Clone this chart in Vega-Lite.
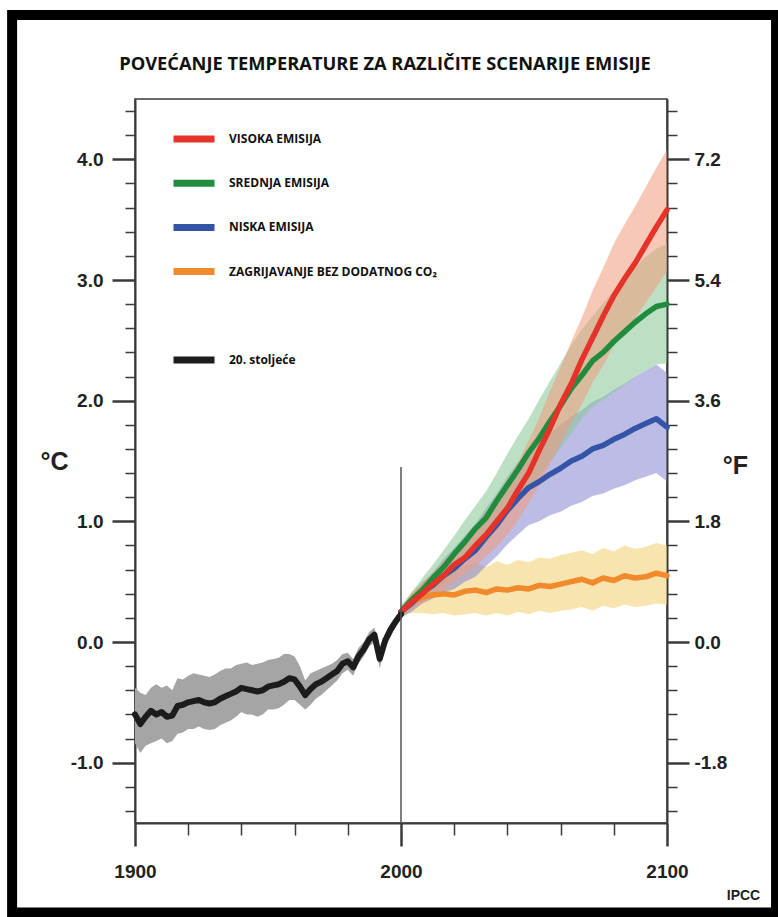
{
  "$schema": "https://vega.github.io/schema/vega-lite/v6.json",
  "width": 532,
  "height": 724,
  "autosize": {"type": "none"},
  "padding": {"left": 135, "top": 99, "right": 111, "bottom": 94},
  "background": "white",
  "title": {
    "text": "POVEĆANJE TEMPERATURE ZA RAZLIČITE SCENARIJE EMISIJE",
    "font": "Liberation Sans Narrow, Open Sans",
    "fontSize": 18.3,
    "fontWeight": "bold",
    "color": "#111111",
    "anchor": "middle",
    "frame": "group",
    "dx": -16,
    "offset": -78,
    "baseline": "alphabetic"
  },
  "datasets": {
    "hist": [
      {"year": 1900, "t": -0.60, "lo": -0.84, "hi": -0.38, "s": "20. stoljeće"},
      {"year": 1902, "t": -0.68, "lo": -0.92, "hi": -0.42, "s": "20. stoljeće"},
      {"year": 1904, "t": -0.62, "lo": -0.86, "hi": -0.44, "s": "20. stoljeće"},
      {"year": 1906, "t": -0.57, "lo": -0.84, "hi": -0.38, "s": "20. stoljeće"},
      {"year": 1908, "t": -0.60, "lo": -0.82, "hi": -0.35, "s": "20. stoljeće"},
      {"year": 1910, "t": -0.58, "lo": -0.80, "hi": -0.38, "s": "20. stoljeće"},
      {"year": 1912, "t": -0.62, "lo": -0.84, "hi": -0.36, "s": "20. stoljeće"},
      {"year": 1914, "t": -0.61, "lo": -0.82, "hi": -0.40, "s": "20. stoljeće"},
      {"year": 1916, "t": -0.53, "lo": -0.76, "hi": -0.30, "s": "20. stoljeće"},
      {"year": 1918, "t": -0.52, "lo": -0.75, "hi": -0.31, "s": "20. stoljeće"},
      {"year": 1920, "t": -0.50, "lo": -0.72, "hi": -0.28, "s": "20. stoljeće"},
      {"year": 1922, "t": -0.49, "lo": -0.72, "hi": -0.26, "s": "20. stoljeće"},
      {"year": 1924, "t": -0.48, "lo": -0.70, "hi": -0.27, "s": "20. stoljeće"},
      {"year": 1926, "t": -0.50, "lo": -0.72, "hi": -0.28, "s": "20. stoljeće"},
      {"year": 1928, "t": -0.51, "lo": -0.73, "hi": -0.29, "s": "20. stoljeće"},
      {"year": 1930, "t": -0.50, "lo": -0.72, "hi": -0.27, "s": "20. stoljeće"},
      {"year": 1932, "t": -0.47, "lo": -0.69, "hi": -0.24, "s": "20. stoljeće"},
      {"year": 1934, "t": -0.45, "lo": -0.67, "hi": -0.22, "s": "20. stoljeće"},
      {"year": 1936, "t": -0.43, "lo": -0.65, "hi": -0.22, "s": "20. stoljeće"},
      {"year": 1938, "t": -0.41, "lo": -0.62, "hi": -0.19, "s": "20. stoljeće"},
      {"year": 1940, "t": -0.38, "lo": -0.58, "hi": -0.18, "s": "20. stoljeće"},
      {"year": 1942, "t": -0.39, "lo": -0.60, "hi": -0.17, "s": "20. stoljeće"},
      {"year": 1944, "t": -0.40, "lo": -0.60, "hi": -0.19, "s": "20. stoljeće"},
      {"year": 1946, "t": -0.41, "lo": -0.62, "hi": -0.18, "s": "20. stoljeće"},
      {"year": 1948, "t": -0.40, "lo": -0.60, "hi": -0.17, "s": "20. stoljeće"},
      {"year": 1950, "t": -0.37, "lo": -0.56, "hi": -0.15, "s": "20. stoljeće"},
      {"year": 1952, "t": -0.36, "lo": -0.56, "hi": -0.14, "s": "20. stoljeće"},
      {"year": 1954, "t": -0.35, "lo": -0.55, "hi": -0.13, "s": "20. stoljeće"},
      {"year": 1956, "t": -0.33, "lo": -0.52, "hi": -0.10, "s": "20. stoljeće"},
      {"year": 1958, "t": -0.30, "lo": -0.48, "hi": -0.10, "s": "20. stoljeće"},
      {"year": 1960, "t": -0.31, "lo": -0.48, "hi": -0.12, "s": "20. stoljeće"},
      {"year": 1962, "t": -0.37, "lo": -0.52, "hi": -0.20, "s": "20. stoljeće"},
      {"year": 1964, "t": -0.44, "lo": -0.56, "hi": -0.32, "s": "20. stoljeće"},
      {"year": 1966, "t": -0.39, "lo": -0.52, "hi": -0.26, "s": "20. stoljeće"},
      {"year": 1968, "t": -0.35, "lo": -0.47, "hi": -0.24, "s": "20. stoljeće"},
      {"year": 1970, "t": -0.33, "lo": -0.44, "hi": -0.22, "s": "20. stoljeće"},
      {"year": 1972, "t": -0.30, "lo": -0.40, "hi": -0.20, "s": "20. stoljeće"},
      {"year": 1974, "t": -0.27, "lo": -0.36, "hi": -0.18, "s": "20. stoljeće"},
      {"year": 1976, "t": -0.24, "lo": -0.32, "hi": -0.15, "s": "20. stoljeće"},
      {"year": 1978, "t": -0.18, "lo": -0.26, "hi": -0.10, "s": "20. stoljeće"},
      {"year": 1980, "t": -0.16, "lo": -0.23, "hi": -0.09, "s": "20. stoljeće"},
      {"year": 1982, "t": -0.21, "lo": -0.28, "hi": -0.14, "s": "20. stoljeće"},
      {"year": 1984, "t": -0.12, "lo": -0.18, "hi": -0.05, "s": "20. stoljeće"},
      {"year": 1986, "t": -0.06, "lo": -0.12, "hi": 0.00, "s": "20. stoljeće"},
      {"year": 1988, "t": 0.02, "lo": -0.04, "hi": 0.08, "s": "20. stoljeće"},
      {"year": 1990, "t": 0.06, "lo": 0.00, "hi": 0.12, "s": "20. stoljeće"},
      {"year": 1992, "t": -0.14, "lo": -0.22, "hi": -0.08, "s": "20. stoljeće"},
      {"year": 1994, "t": 0.01, "lo": -0.05, "hi": 0.06, "s": "20. stoljeće"},
      {"year": 1996, "t": 0.10, "lo": 0.04, "hi": 0.15, "s": "20. stoljeće"},
      {"year": 1998, "t": 0.17, "lo": 0.12, "hi": 0.21, "s": "20. stoljeće"},
      {"year": 2000, "t": 0.23, "lo": 0.19, "hi": 0.27, "s": "20. stoljeće"}
    ],
    "proj": [
      {"year": 2000, "s": "ZAGRIJAVANJE BEZ DODATNOG  CO₂", "t": 0.25, "lo": 0.22, "hi": 0.28},
      {"year": 2004, "s": "ZAGRIJAVANJE BEZ DODATNOG  CO₂", "t": 0.33, "lo": 0.24, "hi": 0.42},
      {"year": 2008, "s": "ZAGRIJAVANJE BEZ DODATNOG  CO₂", "t": 0.37, "lo": 0.24, "hi": 0.50},
      {"year": 2012, "s": "ZAGRIJAVANJE BEZ DODATNOG  CO₂", "t": 0.39, "lo": 0.23, "hi": 0.56},
      {"year": 2016, "s": "ZAGRIJAVANJE BEZ DODATNOG  CO₂", "t": 0.40, "lo": 0.24, "hi": 0.58},
      {"year": 2020, "s": "ZAGRIJAVANJE BEZ DODATNOG  CO₂", "t": 0.39, "lo": 0.22, "hi": 0.60},
      {"year": 2024, "s": "ZAGRIJAVANJE BEZ DODATNOG  CO₂", "t": 0.42, "lo": 0.23, "hi": 0.63},
      {"year": 2028, "s": "ZAGRIJAVANJE BEZ DODATNOG  CO₂", "t": 0.43, "lo": 0.24, "hi": 0.66},
      {"year": 2032, "s": "ZAGRIJAVANJE BEZ DODATNOG  CO₂", "t": 0.41, "lo": 0.22, "hi": 0.62},
      {"year": 2036, "s": "ZAGRIJAVANJE BEZ DODATNOG  CO₂", "t": 0.44, "lo": 0.24, "hi": 0.67},
      {"year": 2040, "s": "ZAGRIJAVANJE BEZ DODATNOG  CO₂", "t": 0.43, "lo": 0.22, "hi": 0.64},
      {"year": 2044, "s": "ZAGRIJAVANJE BEZ DODATNOG  CO₂", "t": 0.45, "lo": 0.25, "hi": 0.68},
      {"year": 2048, "s": "ZAGRIJAVANJE BEZ DODATNOG  CO₂", "t": 0.44, "lo": 0.23, "hi": 0.66},
      {"year": 2052, "s": "ZAGRIJAVANJE BEZ DODATNOG  CO₂", "t": 0.47, "lo": 0.26, "hi": 0.70},
      {"year": 2056, "s": "ZAGRIJAVANJE BEZ DODATNOG  CO₂", "t": 0.46, "lo": 0.24, "hi": 0.69},
      {"year": 2060, "s": "ZAGRIJAVANJE BEZ DODATNOG  CO₂", "t": 0.48, "lo": 0.26, "hi": 0.72},
      {"year": 2064, "s": "ZAGRIJAVANJE BEZ DODATNOG  CO₂", "t": 0.50, "lo": 0.27, "hi": 0.74},
      {"year": 2068, "s": "ZAGRIJAVANJE BEZ DODATNOG  CO₂", "t": 0.52, "lo": 0.29, "hi": 0.76},
      {"year": 2072, "s": "ZAGRIJAVANJE BEZ DODATNOG  CO₂", "t": 0.49, "lo": 0.26, "hi": 0.73},
      {"year": 2076, "s": "ZAGRIJAVANJE BEZ DODATNOG  CO₂", "t": 0.53, "lo": 0.30, "hi": 0.78},
      {"year": 2080, "s": "ZAGRIJAVANJE BEZ DODATNOG  CO₂", "t": 0.51, "lo": 0.28, "hi": 0.75},
      {"year": 2084, "s": "ZAGRIJAVANJE BEZ DODATNOG  CO₂", "t": 0.55, "lo": 0.31, "hi": 0.80},
      {"year": 2088, "s": "ZAGRIJAVANJE BEZ DODATNOG  CO₂", "t": 0.53, "lo": 0.29, "hi": 0.77},
      {"year": 2092, "s": "ZAGRIJAVANJE BEZ DODATNOG  CO₂", "t": 0.54, "lo": 0.30, "hi": 0.79},
      {"year": 2096, "s": "ZAGRIJAVANJE BEZ DODATNOG  CO₂", "t": 0.57, "lo": 0.32, "hi": 0.82},
      {"year": 2100, "s": "ZAGRIJAVANJE BEZ DODATNOG  CO₂", "t": 0.55, "lo": 0.31, "hi": 0.80},

      {"year": 2000, "s": "NISKA EMISIJA", "t": 0.25, "lo": 0.20, "hi": 0.30},
      {"year": 2004, "s": "NISKA EMISIJA", "t": 0.32, "lo": 0.25, "hi": 0.39},
      {"year": 2008, "s": "NISKA EMISIJA", "t": 0.41, "lo": 0.32, "hi": 0.49},
      {"year": 2012, "s": "NISKA EMISIJA", "t": 0.47, "lo": 0.36, "hi": 0.58},
      {"year": 2016, "s": "NISKA EMISIJA", "t": 0.55, "lo": 0.41, "hi": 0.69},
      {"year": 2020, "s": "NISKA EMISIJA", "t": 0.61, "lo": 0.44, "hi": 0.78},
      {"year": 2024, "s": "NISKA EMISIJA", "t": 0.69, "lo": 0.50, "hi": 0.88},
      {"year": 2028, "s": "NISKA EMISIJA", "t": 0.76, "lo": 0.54, "hi": 0.98},
      {"year": 2032, "s": "NISKA EMISIJA", "t": 0.87, "lo": 0.63, "hi": 1.11},
      {"year": 2036, "s": "NISKA EMISIJA", "t": 0.97, "lo": 0.71, "hi": 1.23},
      {"year": 2040, "s": "NISKA EMISIJA", "t": 1.09, "lo": 0.81, "hi": 1.37},
      {"year": 2044, "s": "NISKA EMISIJA", "t": 1.19, "lo": 0.89, "hi": 1.49},
      {"year": 2048, "s": "NISKA EMISIJA", "t": 1.28, "lo": 0.97, "hi": 1.59},
      {"year": 2052, "s": "NISKA EMISIJA", "t": 1.33, "lo": 1.00, "hi": 1.66},
      {"year": 2056, "s": "NISKA EMISIJA", "t": 1.39, "lo": 1.05, "hi": 1.73},
      {"year": 2060, "s": "NISKA EMISIJA", "t": 1.44, "lo": 1.08, "hi": 1.80},
      {"year": 2064, "s": "NISKA EMISIJA", "t": 1.50, "lo": 1.13, "hi": 1.87},
      {"year": 2068, "s": "NISKA EMISIJA", "t": 1.54, "lo": 1.16, "hi": 1.92},
      {"year": 2072, "s": "NISKA EMISIJA", "t": 1.60, "lo": 1.21, "hi": 1.99},
      {"year": 2076, "s": "NISKA EMISIJA", "t": 1.63, "lo": 1.23, "hi": 2.03},
      {"year": 2080, "s": "NISKA EMISIJA", "t": 1.68, "lo": 1.27, "hi": 2.09},
      {"year": 2084, "s": "NISKA EMISIJA", "t": 1.72, "lo": 1.30, "hi": 2.14},
      {"year": 2088, "s": "NISKA EMISIJA", "t": 1.77, "lo": 1.34, "hi": 2.20},
      {"year": 2092, "s": "NISKA EMISIJA", "t": 1.81, "lo": 1.37, "hi": 2.25},
      {"year": 2096, "s": "NISKA EMISIJA", "t": 1.85, "lo": 1.40, "hi": 2.30},
      {"year": 2100, "s": "NISKA EMISIJA", "t": 1.78, "lo": 1.33, "hi": 2.23},

      {"year": 2000, "s": "SREDNJA EMISIJA", "t": 0.25, "lo": 0.20, "hi": 0.30},
      {"year": 2004, "s": "SREDNJA EMISIJA", "t": 0.35, "lo": 0.27, "hi": 0.41},
      {"year": 2008, "s": "SREDNJA EMISIJA", "t": 0.43, "lo": 0.34, "hi": 0.53},
      {"year": 2012, "s": "SREDNJA EMISIJA", "t": 0.53, "lo": 0.41, "hi": 0.64},
      {"year": 2016, "s": "SREDNJA EMISIJA", "t": 0.62, "lo": 0.48, "hi": 0.76},
      {"year": 2020, "s": "SREDNJA EMISIJA", "t": 0.73, "lo": 0.57, "hi": 0.88},
      {"year": 2024, "s": "SREDNJA EMISIJA", "t": 0.83, "lo": 0.66, "hi": 1.01},
      {"year": 2028, "s": "SREDNJA EMISIJA", "t": 0.94, "lo": 0.74, "hi": 1.13},
      {"year": 2032, "s": "SREDNJA EMISIJA", "t": 1.03, "lo": 0.82, "hi": 1.25},
      {"year": 2036, "s": "SREDNJA EMISIJA", "t": 1.17, "lo": 0.93, "hi": 1.40},
      {"year": 2040, "s": "SREDNJA EMISIJA", "t": 1.30, "lo": 1.05, "hi": 1.56},
      {"year": 2044, "s": "SREDNJA EMISIJA", "t": 1.43, "lo": 1.16, "hi": 1.71},
      {"year": 2048, "s": "SREDNJA EMISIJA", "t": 1.57, "lo": 1.27, "hi": 1.85},
      {"year": 2052, "s": "SREDNJA EMISIJA", "t": 1.69, "lo": 1.38, "hi": 2.01},
      {"year": 2056, "s": "SREDNJA EMISIJA", "t": 1.83, "lo": 1.49, "hi": 2.16},
      {"year": 2060, "s": "SREDNJA EMISIJA", "t": 1.96, "lo": 1.61, "hi": 2.31},
      {"year": 2064, "s": "SREDNJA EMISIJA", "t": 2.10, "lo": 1.73, "hi": 2.46},
      {"year": 2068, "s": "SREDNJA EMISIJA", "t": 2.21, "lo": 1.85, "hi": 2.59},
      {"year": 2072, "s": "SREDNJA EMISIJA", "t": 2.33, "lo": 1.95, "hi": 2.70},
      {"year": 2076, "s": "SREDNJA EMISIJA", "t": 2.40, "lo": 2.01, "hi": 2.81},
      {"year": 2080, "s": "SREDNJA EMISIJA", "t": 2.49, "lo": 2.07, "hi": 2.91},
      {"year": 2084, "s": "SREDNJA EMISIJA", "t": 2.57, "lo": 2.13, "hi": 3.01},
      {"year": 2088, "s": "SREDNJA EMISIJA", "t": 2.65, "lo": 2.20, "hi": 3.10},
      {"year": 2092, "s": "SREDNJA EMISIJA", "t": 2.72, "lo": 2.25, "hi": 3.19},
      {"year": 2096, "s": "SREDNJA EMISIJA", "t": 2.78, "lo": 2.30, "hi": 3.26},
      {"year": 2100, "s": "SREDNJA EMISIJA", "t": 2.80, "lo": 2.31, "hi": 3.30},

      {"year": 2000, "s": "VISOKA EMISIJA", "t": 0.25, "lo": 0.21, "hi": 0.29},
      {"year": 2004, "s": "VISOKA EMISIJA", "t": 0.33, "lo": 0.27, "hi": 0.40},
      {"year": 2008, "s": "VISOKA EMISIJA", "t": 0.40, "lo": 0.32, "hi": 0.49},
      {"year": 2012, "s": "VISOKA EMISIJA", "t": 0.48, "lo": 0.38, "hi": 0.57},
      {"year": 2016, "s": "VISOKA EMISIJA", "t": 0.55, "lo": 0.44, "hi": 0.67},
      {"year": 2020, "s": "VISOKA EMISIJA", "t": 0.64, "lo": 0.51, "hi": 0.76},
      {"year": 2024, "s": "VISOKA EMISIJA", "t": 0.70, "lo": 0.57, "hi": 0.85},
      {"year": 2028, "s": "VISOKA EMISIJA", "t": 0.80, "lo": 0.63, "hi": 0.96},
      {"year": 2032, "s": "VISOKA EMISIJA", "t": 0.89, "lo": 0.71, "hi": 1.08},
      {"year": 2036, "s": "VISOKA EMISIJA", "t": 1.00, "lo": 0.79, "hi": 1.19},
      {"year": 2040, "s": "VISOKA EMISIJA", "t": 1.11, "lo": 0.89, "hi": 1.34},
      {"year": 2044, "s": "VISOKA EMISIJA", "t": 1.26, "lo": 1.01, "hi": 1.49},
      {"year": 2048, "s": "VISOKA EMISIJA", "t": 1.40, "lo": 1.15, "hi": 1.67},
      {"year": 2052, "s": "VISOKA EMISIJA", "t": 1.59, "lo": 1.30, "hi": 1.86},
      {"year": 2056, "s": "VISOKA EMISIJA", "t": 1.77, "lo": 1.48, "hi": 2.08},
      {"year": 2060, "s": "VISOKA EMISIJA", "t": 1.97, "lo": 1.64, "hi": 2.28},
      {"year": 2064, "s": "VISOKA EMISIJA", "t": 2.14, "lo": 1.81, "hi": 2.49},
      {"year": 2068, "s": "VISOKA EMISIJA", "t": 2.34, "lo": 1.97, "hi": 2.69},
      {"year": 2072, "s": "VISOKA EMISIJA", "t": 2.52, "lo": 2.15, "hi": 2.91},
      {"year": 2076, "s": "VISOKA EMISIJA", "t": 2.70, "lo": 2.29, "hi": 3.10},
      {"year": 2080, "s": "VISOKA EMISIJA", "t": 2.87, "lo": 2.46, "hi": 3.30},
      {"year": 2084, "s": "VISOKA EMISIJA", "t": 3.01, "lo": 2.57, "hi": 3.46},
      {"year": 2088, "s": "VISOKA EMISIJA", "t": 3.14, "lo": 2.68, "hi": 3.61},
      {"year": 2092, "s": "VISOKA EMISIJA", "t": 3.29, "lo": 2.81, "hi": 3.77},
      {"year": 2096, "s": "VISOKA EMISIJA", "t": 3.44, "lo": 2.94, "hi": 3.93},
      {"year": 2100, "s": "VISOKA EMISIJA", "t": 3.58, "lo": 3.07, "hi": 4.08}
    ]
  },
  "layer": [
    {
      "encoding": {
        "x": {
          "field": "year",
          "type": "quantitative",
          "scale": {"domain": [1900, 2100], "nice": false, "zero": false},
          "axis": null
        }
      },
      "layer": [
        {
          "data": {"name": "hist"},
          "mark": {"type": "area", "color": "#a5a5a5"},
          "encoding": {
            "y": {"field": "lo", "type": "quantitative", "scale": {"domain": [-1.5, 4.5], "nice": false, "zero": false}, "axis": null},
            "y2": {"field": "hi"}
          }
        },
        {
          "data": {"name": "proj"},
          "transform": [{"filter": "datum.s == 'ZAGRIJAVANJE BEZ DODATNOG  CO₂'"}],
          "mark": {"type": "area", "color": "#f2d27a", "opacity": 0.6},
          "encoding": {
            "y": {"field": "lo", "type": "quantitative", "axis": null},
            "y2": {"field": "hi"}
          }
        },
        {
          "data": {"name": "proj"},
          "transform": [{"filter": "datum.s == 'NISKA EMISIJA'"}],
          "mark": {"type": "area", "color": "#8585d0", "opacity": 0.55},
          "encoding": {
            "y": {"field": "lo", "type": "quantitative", "axis": null},
            "y2": {"field": "hi"}
          }
        },
        {
          "data": {"name": "proj"},
          "transform": [{"filter": "datum.s == 'SREDNJA EMISIJA'"}],
          "mark": {"type": "area", "color": "#86c796", "opacity": 0.55},
          "encoding": {
            "y": {"field": "lo", "type": "quantitative", "axis": null},
            "y2": {"field": "hi"}
          }
        },
        {
          "data": {"name": "proj"},
          "transform": [{"filter": "datum.s == 'VISOKA EMISIJA'"}],
          "mark": {"type": "area", "color": "#f29a7c", "opacity": 0.55},
          "encoding": {
            "y": {"field": "lo", "type": "quantitative", "axis": null},
            "y2": {"field": "hi"}
          }
        },
        {
          "data": {"name": "proj"},
          "mark": {"type": "line", "strokeWidth": 5.5, "strokeJoin": "round", "strokeCap": "round"},
          "encoding": {
            "y": {"field": "t", "type": "quantitative", "axis": null},
            "color": {
              "field": "s",
              "type": "nominal",
              "scale": {
                "domain": ["VISOKA EMISIJA", "SREDNJA EMISIJA", "NISKA EMISIJA", "ZAGRIJAVANJE BEZ DODATNOG  CO₂", " ", "20. stoljeće"],
                "range": ["#e63329", "#218c3e", "#3454a8", "#f08a2c", "rgba(255,255,255,0)", "#1c1c1c"]
              },
              "legend": {
                "title": null,
                "orient": "none",
                "legendX": 35,
                "legendY": 16,
                "padding": 0,
                "symbolType": "stroke",
                "symbolSize": 1681,
                "symbolStrokeWidth": 7,
                "labelFont": "Open Sans",
                "labelFontWeight": "bold",
                "labelFontSize": 12,
                "labelColor": "#111111",
                "labelOffset": 11,
                "labelLimit": 400,
                "rowPadding": 6.2
              }
            }
          }
        },
        {
          "data": {"name": "hist"},
          "mark": {"type": "line", "strokeWidth": 6, "strokeJoin": "round", "strokeCap": "round"},
          "encoding": {
            "y": {"field": "t", "type": "quantitative", "axis": null},
            "color": {"field": "s", "type": "nominal"}
          }
        }
      ]
    },
    {
      "data": {"values": [{}]},
      "mark": {"type": "rule", "opacity": 0},
      "encoding": {
        "x": {
          "datum": 2000,
          "type": "quantitative",
          "scale": {"domain": [1900, 2100], "nice": false, "zero": false},
          "axis": {
            "orient": "bottom",
            "values": [1900, 1920, 1940, 1960, 1980, 2000, 2020, 2040, 2060, 2080, 2100],
            "labelExpr": "datum.value % 100 == 0 ? format(datum.value, 'd') : ''",
            "labelOverlap": false,
            "tickSize": {"condition": {"test": "datum.value % 100 != 0", "value": 12}, "value": 23},
            "tickWidth": {"condition": {"test": "datum.value % 100 != 0", "value": 1.5}, "value": 2.5},
            "labelPadding": 16,
            "labelFlush": false,
            "title": "IPCC",
            "titleX": 608,
            "titleY": 72,
            "titleAlign": "center",
            "titleBaseline": "middle",
            "titleFontSize": 14
          }
        },
        "y": {
          "datum": 0,
          "type": "quantitative",
          "scale": {"domain": [-1.5, 4.5], "nice": false, "zero": false},
          "axis": {
            "orient": "left",
            "values": [-1.4, -1.2, -1, -0.8, -0.6, -0.4, -0.2, 0, 0.2, 0.4, 0.6, 0.8, 1, 1.2, 1.4, 1.6, 1.8, 2, 2.2, 2.4, 2.6, 2.8, 3, 3.2, 3.4, 3.6, 3.8, 4, 4.2, 4.4],
            "labelExpr": "abs(datum.value - round(datum.value)) < 0.01 ? replace(format(datum.value, '.1f'), '−', '-') : ''",
            "labelOverlap": false,
            "tickSize": {"condition": {"test": "abs(datum.value - round(datum.value)) > 0.01", "value": 10}, "value": 23},
            "tickWidth": {"condition": {"test": "abs(datum.value - round(datum.value)) > 0.01", "value": 1.5}, "value": 2.5},
            "labelPadding": 9,
            "labelFlush": false,
            "title": "°C",
            "titleAngle": 0,
            "titleX": -81,
            "titleY": 362,
            "titleAlign": "center",
            "titleBaseline": "middle",
            "titleFontSize": 25
          }
        },
        "y2": {"datum": 0.1}
      }
    },
    {
      "data": {"values": [{}]},
      "encoding": {
        "x": {
          "datum": 2000,
          "type": "quantitative",
          "scale": {"domain": [1900, 2100], "nice": false, "zero": false},
          "axis": null
        },
        "y": {
          "datum": -1.5,
          "type": "quantitative",
          "scale": {"domain": [-1.5, 4.5], "nice": false, "zero": false},
          "axis": {
            "orient": "right",
            "values": [-1.4, -1.2, -1, -0.8, -0.6, -0.4, -0.2, 0, 0.2, 0.4, 0.6, 0.8, 1, 1.2, 1.4, 1.6, 1.8, 2, 2.2, 2.4, 2.6, 2.8, 3, 3.2, 3.4, 3.6, 3.8, 4, 4.2, 4.4],
            "labelExpr": "abs(datum.value - round(datum.value)) < 0.01 ? replace(format(datum.value * 1.8, '.1f'), '−', '-') : ''",
            "labelOverlap": false,
            "tickSize": {"condition": {"test": "abs(datum.value - round(datum.value)) > 0.01", "value": 10}, "value": 22},
            "tickWidth": {"condition": {"test": "abs(datum.value - round(datum.value)) > 0.01", "value": 1.5}, "value": 2.5},
            "labelPadding": 5,
            "labelFlush": false,
            "title": "°F",
            "titleAngle": 0,
            "titleX": 68,
            "titleY": 366,
            "titleAlign": "center",
            "titleBaseline": "middle",
            "titleFontSize": 25
          }
        }
      },
      "layer": [
        {
          "mark": {"type": "rule", "color": "#555555", "strokeWidth": 1.5},
          "encoding": {"y2": {"datum": 1.45}}
        },
        {
          "mark": {"type": "rect", "fillOpacity": 0, "stroke": "black", "strokeWidth": 10, "clip": false},
          "encoding": {
            "x": {"datum": 1853.8, "type": "quantitative", "axis": null},
            "x2": {"datum": 2141.0},
            "y": {"datum": 5.196, "type": "quantitative"},
            "y2": {"datum": -2.242}
          }
        }
      ]
    }
  ],
  "resolve": {"scale": {"x": "independent", "y": "independent"}},
  "config": {
    "view": {"stroke": "#3a3a3a", "strokeWidth": 1.5},
    "axis": {
      "grid": false,
      "labelOverlap": false,
      "domainColor": "#3a3a3a",
      "domainWidth": 2,
      "tickColor": "#3a3a3a",
      "labelFont": "Liberation Sans",
      "labelFontWeight": "bold",
      "labelFontSize": 19,
      "labelColor": "#222222",
      "titleFont": "Liberation Sans",
      "titleFontWeight": "bold",
      "titleColor": "#222222"
    }
  }
}
